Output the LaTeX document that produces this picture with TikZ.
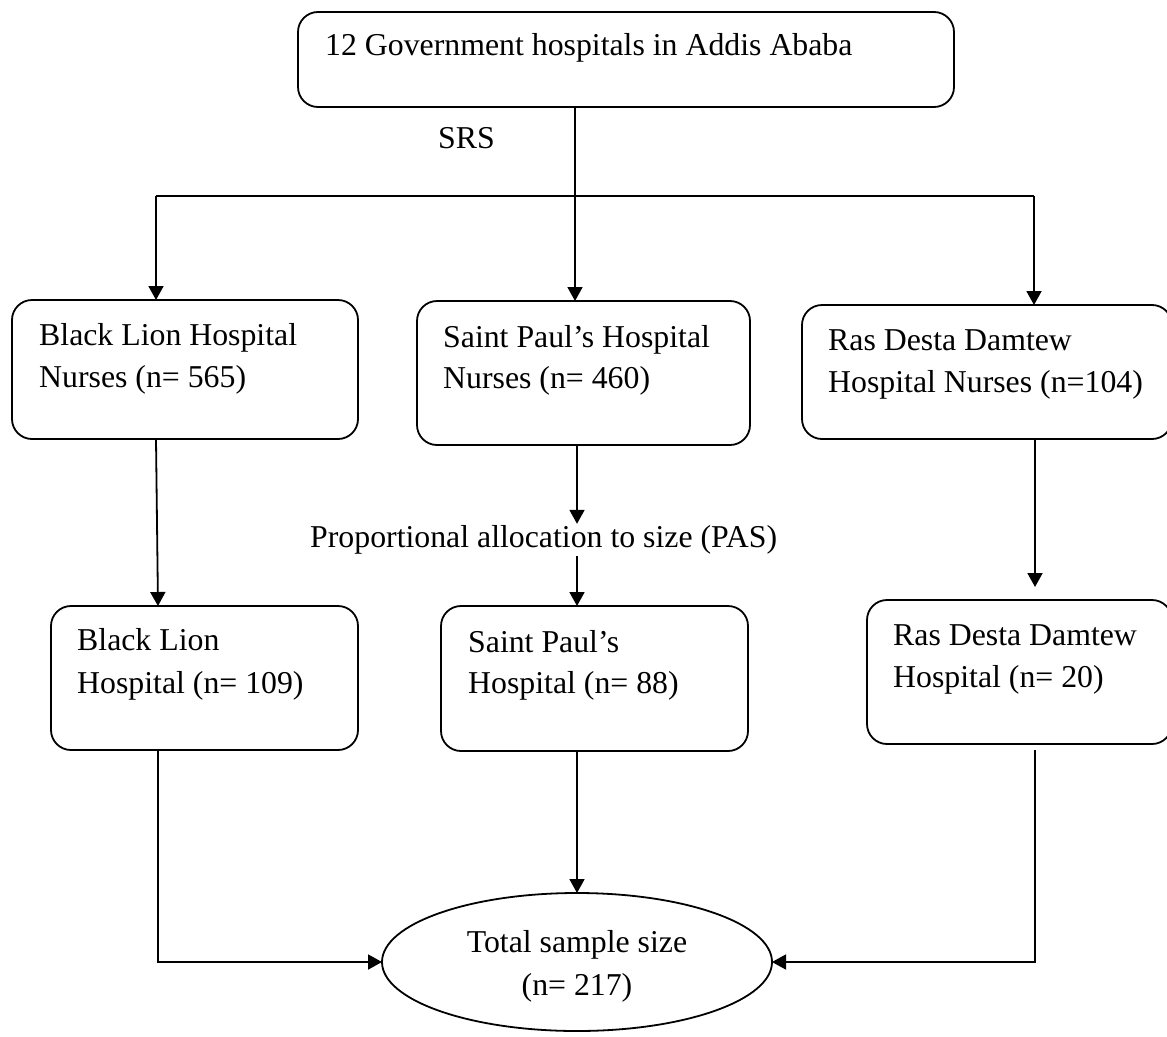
\documentclass[tikz,border=0pt]{standalone}
\usepackage{fontspec}
\setmainfont{Liberation Serif}
\usetikzlibrary{arrows.meta,shapes.geometric}
\tikzset{
  box/.style={draw, line width=1.8pt, rounded corners=20pt, inner sep=0pt, outer sep=0pt},
  oval/.style={draw, ellipse, line width=1.8pt, inner sep=0pt, outer sep=0pt},
  txt/.style={anchor=base west, inner sep=0pt, font=\fontsize{31.8}{38}\selectfont},
  ctxt/.style={anchor=base, inner sep=0pt, font=\fontsize{31.8}{38}\selectfont},
  conn/.style={line width=1.8pt},
  arr/.style={line width=1.8pt, -{Triangle[length=14pt,width=15pt]}}
}
\begin{document}
\begin{tikzpicture}[x=1pt,y=-1pt]
\useasboundingbox (0,0) rectangle (1167,1036);
% boxes
\node[box, minimum width=656pt, minimum height=95pt] (top) at (626,59.5) {};
\node[box, minimum width=346pt, minimum height=139pt] (bl1) at (185,369.5) {};
\node[box, minimum width=333pt, minimum height=144pt] (sp1) at (583.5,373) {};
\node[box, minimum width=370pt, minimum height=134pt] (rd1) at (987,372) {};
\node[box, minimum width=307pt, minimum height=144pt] (bl2) at (204.5,678) {};
\node[box, minimum width=307pt, minimum height=145pt] (sp2) at (594.5,678.5) {};
\node[box, minimum width=305pt, minimum height=144pt] (rd2) at (1019.5,672) {};
\node[oval, minimum width=390pt, minimum height=138pt] (tot) at (577,962) {};
% texts
\node[txt] (ttop) at (325,55) {12 Government hospitals in Addis Ababa};
\node[txt] (srs) at (438,148) {SRS};
\node[txt] (bl1a) at (39,345) {Black Lion Hospital};
\node[txt] (bl1b) at (39,387) {Nurses (n= 565)};
\node[txt] (sp1a) at (443,347) {Saint Paul’s Hospital};
\node[txt] (sp1b) at (443,388) {Nurses (n= 460)};
\node[txt] (rd1a) at (828,350) {Ras Desta Damtew};
\node[txt] (rd1b) at (828,392) {Hospital Nurses (n=104)};
\node[txt, text height=22pt, text depth=8pt, inner ysep=1pt] (pas) at (310,547) {Proportional allocation to size (PAS)};
\node[txt] (bl2a) at (77,650) {Black Lion};
\node[txt] (bl2b) at (77,693) {Hospital (n= 109)};
\node[txt] (sp2a) at (468,652) {Saint Paul’s};
\node[txt] (sp2b) at (468,693) {Hospital (n= 88)};
\node[txt] (rd2a) at (893,645) {Ras Desta Damtew};
\node[txt] (rd2b) at (893,687) {Hospital (n= 20)};
\node[ctxt] (tota) at (577,952) {Total sample size};
\node[ctxt] (totb) at (577,995) {(n= 217)};
% reference coordinates
\coordinate (xL) at (156,0);
\coordinate (xL2) at (158,0);
\coordinate (xM) at (575,0);
\coordinate (xM2) at (577,0);
\coordinate (xR) at (1034,0);
\coordinate (xR2) at (1035,0);
\coordinate (yH) at (0,196);
\coordinate (yB) at (0,962);
\coordinate (rdgap) at (0,587);
\coordinate (rdstart) at (0,750);
% connectors
\draw[arr] (top.south -| xM) -- (sp1.north -| xM);
\draw[conn] (xL |- yH) -- (xR |- yH);
\draw[arr] (xL |- yH) -- (bl1.north -| xL);
\draw[arr] (xR |- yH) -- (rd1.north -| xR);
\draw[arr] (bl1.south -| xL) -- (bl2.north -| xL2);
\draw[arr] (sp1.south -| xM2) -- (pas.north -| xM2);
\draw[arr] (pas.south -| xM2) -- (sp2.north -| xM2);
\draw[arr] (rd1.south -| xR2) -- (xR2 |- rdgap);
\draw[arr] (bl2.south -| xL2) -- (xL2 |- yB) -- (tot.west);
\draw[arr] (sp2.south -| xM2) -- (tot.north);
\draw[arr] (xR2 |- rdstart) -- (xR2 |- yB) -- (tot.east);
\end{tikzpicture}
\end{document}
